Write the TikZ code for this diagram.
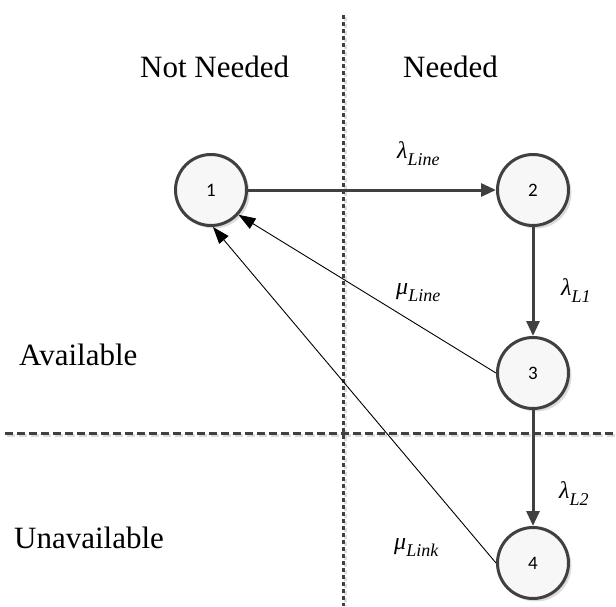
\documentclass[tikz,border=0pt]{standalone}
\usepackage{fontspec}
\setmainfont{Liberation Serif}
\newfontfamily\numfont{Carlito}
\usetikzlibrary{arrows.meta,shadows}
\definecolor{dgray}{HTML}{404040}
\definecolor{sgray}{HTML}{DCDCDC}
\newcommand{\glab}[2]{{\fontsize{24}{28}\selectfont\itshape #1\raisebox{-7pt}{\fontsize{18}{21}\selectfont #2}}}
\begin{document}
\begin{tikzpicture}[x=1pt,y=-1pt,
  state/.style={circle, draw=dgray, line width=3pt, fill=gray!6, minimum size=71pt, inner sep=0pt,
    font=\numfont\fontsize{19}{22}\selectfont,
    drop shadow={shadow xshift=3pt, shadow yshift=-3pt, fill=sgray, opacity=1}},
  thickarrow/.style={draw=dgray, line width=3pt, -{Triangle[length=15pt,width=13pt]}},
  thinarrow/.style={draw=black, line width=0.9pt, -{Triangle[length=17pt,width=12pt]}},
  quad/.style={font=\fontsize{31}{37}\selectfont, inner sep=0pt, anchor=base west},
  glabel/.style={inner sep=0pt, anchor=base west},
  vdots/.style={line width=3pt, dash pattern=on 4pt off 3pt},
  hdash/.style={line width=3pt, dash pattern=on 8pt off 4pt},
]
\useasboundingbox (0,0) rectangle (616,606);

% separator lines
\coordinate (vt) at (343,15);
\coordinate (vb) at (343,606);
\coordinate (hl) at (5,433);
\coordinate (hr) at (616,433);
\coordinate (vts) at (345,17);
\coordinate (vbs) at (345,606);
\coordinate (hls) at (7,435);
\coordinate (hrs) at (616,435);
\draw[vdots, sgray] (vts) -- (vbs);
\draw[hdash, sgray] (hls) -- (hrs);
\draw[vdots, dgray] (vt) -- (vb);
\draw[hdash, dgray] (hl) -- (hr);

% quadrant labels
\node[quad] (nn) at (140,77) {Not Needed};
\node[quad] (nd) at (403,77) {Needed};
\node[quad] (av) at (19,365) {Available};
\node[quad] (ua) at (14,548) {Unavailable};

% states
\node[state] (n1) at (211,190) {1};
\node[state] (n2) at (533,190) {2};
\node[state] (n3) at (533,373) {3};
\node[state] (n4) at (533,563) {4};

% transitions
\draw[thickarrow] (n1) -- (n2);
\draw[thickarrow] (n2) -- (n3);
\draw[thickarrow] (n3) -- (n4);
\draw[thinarrow] (n3.west) -- (n1.-42);
\draw[thinarrow] (n4.west) -- (n1.-87);

% rate labels
\node[glabel] (lline) at (397,158) {\glab{λ}{Line}};
\node[glabel] (mline) at (396,294) {\glab{μ}{Line}};
\node[glabel] (ll1) at (561,295) {\glab{λ}{L1}};
\node[glabel] (ll2) at (559,498) {\glab{λ}{L2}};
\node[glabel] (mlink) at (394,549) {\glab{μ}{Link}};
\end{tikzpicture}
\end{document}
